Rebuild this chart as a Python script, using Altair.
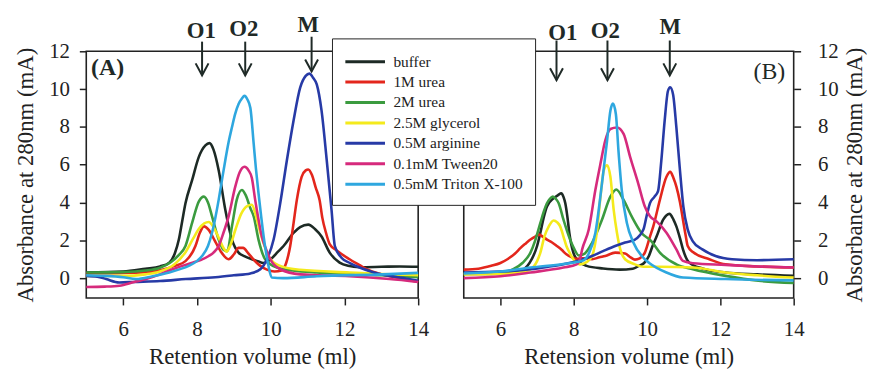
import altair as alt
import pandas as pd

SERIES = ["buffer", "1M urea", "2M urea", "2.5M glycerol", "0.5M arginine",
          "0.1mM Tween20", "0.5mM Triton X-100"]
COLORS = ["#1d2a25", "#e3261c", "#3b9b3f", "#f4ea1c", "#273aa6", "#d62a7c", "#2ea7df"]

Y_TICKS = [0, 2, 4, 6, 8, 10, 12]
X_TICKS = [6, 8, 10, 12, 14]

# ---------------- Panel A ----------------
a_buffer_x = [5.0, 6.0, 6.6, 7.0, 7.25, 7.4, 7.51, 7.6, 7.69, 7.87, 8.05, 8.23, 8.34, 8.45, 8.59, 8.77,
              8.95, 9.13, 9.3, 9.49, 9.65, 9.8, 10.0, 10.2, 10.35, 10.62, 10.8, 11.02, 11.2, 11.38, 11.6,
              11.87, 12.1, 12.41, 13.0, 13.5, 14.0]
a_buffer_y = [0.3, 0.35, 0.5, 0.62, 0.82, 1.3, 2.04, 3.0, 3.96, 5.18, 6.4, 7.02, 7.14, 6.8, 5.71, 3.62,
              2.04, 1.35, 1.15, 1.0, 0.9, 0.8, 1.0, 1.4, 1.7, 2.4, 2.7, 2.83, 2.6, 2.2, 1.35,
              0.82, 0.65, 0.58, 0.6, 0.62, 0.6]

a_urea1_x = [5.0, 6.0, 6.6, 7.0, 7.4, 7.69, 7.96, 8.08, 8.19, 8.32, 8.48, 8.65, 8.86, 9.0, 9.13, 9.25,
             9.4, 9.55, 9.72, 9.9, 10.1, 10.3, 10.42, 10.53, 10.62, 10.71, 10.84, 10.95, 11.02, 11.12,
             11.22, 11.33, 11.4, 11.5, 11.6, 11.8, 12.14, 12.4, 12.6, 13.0, 13.5, 14.0]
a_urea1_y = [0.25, 0.28, 0.32, 0.42, 0.65, 0.9, 1.7, 2.4, 2.74, 2.55, 2.0, 1.4, 1.0, 1.25, 1.6, 1.6,
             1.3, 0.95, 0.65, 0.45, 0.35, 0.4, 0.8, 1.7, 2.9, 4.14, 5.36, 5.7, 5.75, 5.45,
             4.8, 4.1, 3.2, 2.4, 1.8, 1.45, 1.0, 0.7, 0.47, 0.2, 0.0, -0.2]

a_urea2_x = [5.0, 6.0, 6.6, 7.0, 7.3, 7.5, 7.69, 7.87, 8.05, 8.19, 8.3, 8.41, 8.59, 8.72, 8.82, 8.95,
             9.08, 9.22, 9.32, 9.45, 9.54, 9.67, 9.85, 10.17, 10.6, 11.25, 12.0, 13.0, 14.0]
a_urea2_y = [0.3, 0.32, 0.4, 0.55, 0.85, 1.2, 1.7, 2.92, 4.05, 4.31, 4.0, 3.27, 2.04, 1.5, 1.43, 2.74,
             4.14, 4.66, 4.4, 3.7, 3.27, 2.04, 1.0, 0.56, 0.4, 0.3, 0.25, 0.15, 0.05]

a_glyc_x = [5.0, 6.0, 6.6, 7.0, 7.4, 7.7, 7.9, 8.05, 8.2, 8.32, 8.45, 8.6, 8.72, 8.8, 8.9, 9.05, 9.2,
            9.35, 9.49, 9.6, 9.72, 9.85, 9.94, 10.1, 10.26, 10.8, 12.14, 13.0, 14.0]
a_glyc_y = [0.12, 0.12, 0.2, 0.35, 0.75, 1.4, 2.1, 2.6, 2.9, 2.97, 2.7, 2.1, 1.6, 1.4, 1.7, 2.6, 3.4,
            3.8, 3.88, 3.3, 2.4, 1.6, 1.17, 0.8, 0.65, 0.44, 0.3, 0.22, 0.16]

a_arg_x = [5.0, 5.3, 5.54, 5.89, 6.3, 7.0, 7.7, 8.5, 9.0, 9.45, 9.72, 9.9, 10.08, 10.26, 10.44, 10.62,
           10.8, 10.95, 11.05, 11.15, 11.25, 11.38, 11.52, 11.65, 11.74, 11.92, 12.15, 12.41, 12.8,
           13.22, 13.6, 14.0]
a_arg_y = [0.12, 0.08, -0.05, -0.23, -0.2, -0.15, -0.05, 0.05, 0.15, 0.25, 0.47, 1.0, 2.04, 3.97, 6.24,
           8.33, 10.08, 10.7, 10.82, 10.6, 10.25, 8.86, 6.24, 3.62, 1.7, 1.08, 0.8, 0.56, 0.3,
           0.12, 0.0, -0.14]

a_tween_x = [5.0, 5.5, 5.9, 6.3, 6.62, 7.0, 7.34, 7.6, 7.88, 8.1, 8.32, 8.45, 8.59, 8.72, 8.86, 9.04,
             9.16, 9.29, 9.4, 9.49, 9.58, 9.67, 9.76, 9.88, 9.99, 10.26, 10.8, 12.14, 13.22, 14.0]
a_tween_y = [-0.47, -0.45, -0.4, -0.2, -0.05, 0.2, 0.47, 0.65, 0.82, 0.95, 1.17, 1.35, 1.7, 2.4, 3.27,
             4.84, 5.6, 5.89, 5.7, 5.3, 4.14, 3.1, 2.2, 1.5, 1.0, 0.47, 0.2, 0.1, -0.05, -0.2]

a_triton_x = [5.0, 5.5, 6.0, 6.35, 6.8, 7.25, 7.5, 7.78, 8.0, 8.14, 8.3, 8.41, 8.5, 8.59, 8.68, 8.77,
              8.86, 8.95, 9.04, 9.13, 9.22, 9.29, 9.37, 9.45, 9.54, 9.6, 9.67, 9.74, 9.81, 9.88, 9.94,
              10.03, 10.34, 11.25, 13.04, 14.0]
a_triton_y = [0.15, 0.12, 0.05, -0.05, 0.1, 0.3, 0.45, 0.65, 0.9, 1.17, 1.7, 2.4, 3.2, 4.14, 5.2, 6.24,
              7.2, 7.98, 8.7, 9.21, 9.5, 9.64, 9.45, 9.0, 7.1, 5.8, 4.5, 3.3, 2.2, 1.3, 0.65,
              0.03, 0.0, 0.1, 0.2, 0.28]

# ---------------- Panel B ----------------
b_buffer_x = [5.0, 5.5, 6.0, 6.5, 6.8, 7.0, 7.09, 7.18, 7.27, 7.45, 7.58, 7.66, 7.72, 7.77, 7.83, 7.88,
              7.99, 8.08, 8.17, 8.35, 8.8, 9.25, 9.61, 9.78, 9.92, 10.05, 10.15, 10.26, 10.44, 10.61,
              10.72, 10.8, 10.9, 10.98, 11.15, 11.51, 12.14, 13.0, 14.0]
b_buffer_y = [0.22, 0.22, 0.25, 0.35, 0.82, 1.7, 2.4, 3.2, 3.79, 4.22, 4.4, 4.49, 4.3, 3.96, 3.2, 2.39,
              1.35, 1.0, 0.82, 0.65, 0.51, 0.45, 0.5, 0.65, 0.8, 1.17, 1.7, 2.2, 3.09, 3.4,
              3.1, 2.74, 2.1, 1.52, 0.82, 0.51, 0.3, 0.2, 0.12]

b_urea1_x = [5.0, 5.4, 5.75, 6.0, 6.19, 6.4, 6.55, 6.7, 6.82, 6.95, 7.05, 7.15, 7.27, 7.4, 7.54, 7.67,
             7.8, 7.95, 8.07, 8.25, 8.5, 8.7, 8.86, 9.13, 9.4, 9.55, 9.67, 9.8, 9.94, 10.08, 10.17,
             10.35, 10.53, 10.63, 10.72, 10.8, 10.9, 10.98, 11.05, 11.11, 11.25, 11.7, 12.14, 13.0, 14.0]
b_urea1_y = [0.45, 0.5, 0.65, 0.8, 1.0, 1.3, 1.6, 1.85, 2.04, 2.2, 2.3, 2.2, 2.04, 1.9, 1.7, 1.5,
             1.26, 1.1, 1.03, 1.05, 1.0, 1.1, 1.17, 1.35, 1.3, 1.1, 0.98, 1.05, 1.35, 2.2, 2.74,
             4.14, 5.36, 5.62, 5.3, 4.84, 4.0, 3.09, 2.3, 1.7, 1.38, 1.0, 0.73, 0.62, 0.56]

b_urea2_x = [5.0, 5.5, 6.0, 6.35, 6.6, 6.82, 6.95, 7.09, 7.18, 7.27, 7.35, 7.43, 7.51, 7.59, 7.72, 7.9,
             8.0, 8.14, 8.3, 8.5, 8.77, 9.0, 9.16, 9.36, 9.58, 9.85, 10.12, 10.35, 10.8, 11.25, 12.14,
             13.04, 14.0]
b_urea2_y = [0.25, 0.25, 0.3, 0.47, 0.8, 1.35, 2.0, 2.92, 3.5, 3.96, 4.2, 4.31, 4.2, 3.96, 3.09, 2.04,
             1.6, 1.2, 1.3, 1.87, 3.09, 4.31, 4.69, 4.14, 3.27, 2.39, 1.95, 1.35, 0.73, 0.47, 0.12,
             -0.14, -0.26]

b_glyc_x = [5.0, 6.0, 6.5, 6.82, 7.0, 7.09, 7.2, 7.32, 7.45, 7.55, 7.63, 7.72, 7.8, 7.9, 7.99, 8.17,
            8.35, 8.5, 8.64, 8.73, 8.82, 8.91, 9.0, 9.09, 9.18, 9.27, 9.4, 9.67, 9.9, 10.35, 11.25,
            12.14, 13.0, 14.0]
b_glyc_y = [0.2, 0.22, 0.3, 0.47, 0.9, 1.35, 2.2, 2.74, 3.05, 2.95, 2.74, 2.2, 1.7, 1.3, 1.0, 0.73,
            0.85, 1.17, 2.57, 4.31, 5.7, 5.97, 5.36, 3.61, 2.39, 1.52, 1.0, 0.73, 0.6, 0.6, 0.56,
            0.3, 0.15, 0.03]

b_arg_x = [5.0, 6.0, 6.82, 7.3, 7.72, 8.0, 8.26, 8.5, 8.8, 9.13, 9.4, 9.67, 9.9, 9.99, 10.08, 10.2,
           10.3, 10.39, 10.48, 10.57, 10.63, 10.71, 10.8, 10.89, 10.99, 11.11, 11.25, 11.51, 11.87,
           12.32, 13.0, 14.0]
b_arg_y = [0.3, 0.35, 0.47, 0.6, 0.73, 0.85, 1.0, 1.17, 1.43, 1.7, 1.88, 2.04, 2.57, 3.3, 3.97, 4.3,
           4.6, 6.23, 8.32, 9.9, 10.1, 9.72, 7.97, 5.88, 3.79, 2.57, 1.95, 1.52, 1.17,
           1.0, 0.95, 1.0]

b_tween_x = [5.0, 6.0, 6.82, 7.72, 8.08, 8.17, 8.23, 8.41, 8.59, 8.73, 8.86, 9.0, 9.18, 9.36, 9.54,
             9.76, 9.94, 10.08, 10.26, 10.53, 10.8, 10.98, 11.25, 12.14, 13.0, 14.0]
b_tween_y = [0.0, 0.1, 0.3, 0.56, 0.73, 1.0, 1.52, 2.57, 4.66, 6.06, 7.28, 7.89, 7.97, 7.63, 6.4,
             5.0, 3.79, 3.27, 3.0, 2.4, 1.52, 0.91, 0.79, 0.7, 0.62, 0.56]

b_triton_x = [5.0, 6.0, 6.82, 7.72, 8.08, 8.28, 8.41, 8.59, 8.77, 8.91, 9.0, 9.07, 9.15, 9.22, 9.31,
              9.45, 9.63, 9.94, 10.05, 10.53, 10.98, 12.14, 14.0]
b_triton_y = [0.25, 0.35, 0.56, 0.75, 0.85, 0.95, 1.3, 2.39, 5.0, 7.28, 8.85, 9.23, 8.67, 6.75, 4.66,
              2.92, 1.87, 1.0, 0.82, 0.3, 0.03, -0.05, -0.12]

# ---------------- Annotations ----------------
PEAK_LABELS = ["O1", "O2", "M"]
a_arrow_x = [8.14, 9.31, 11.11]
a_arrow_top = [12.51, 12.51, 12.77]
a_arrow_tip = [10.73, 10.73, 10.94]
a_label_x = [8.12, 9.27, 11.02]
a_label_y = [13.06, 13.19, 13.37]

b_arrow_x = [7.53, 8.92, 10.62]
b_arrow_top = [12.57, 12.57, 12.57]
b_arrow_tip = [10.47, 10.47, 10.73]
b_label_x = [7.7, 8.86, 10.63]
b_label_y = [12.96, 13.09, 13.3]

FONT = "Liberation Serif"
INK = "#1f2a27"


def long_frame(pairs):
    rows = []
    for name, (xs, ys) in zip(SERIES, pairs):
        for i, (xv, yv) in enumerate(zip(xs, ys)):
            rows.append({"series": name, "x": xv, "y": yv, "i": i})
    return pd.DataFrame(rows)


def arrow_frame(ax, top, tip, lx, ly):
    return pd.DataFrame({"x": ax, "top": top, "tip": tip, "lx": lx, "ly": ly, "label": PEAK_LABELS})


xscale = alt.Scale(domain=[5, 14], nice=False, zero=False)
yscale = alt.Scale(domain=[-1.05, 12], nice=False, zero=False)


def panel(df, arrows, xtitle, yorient, tag, tag_x, tag_y, tag_align, tag_weight, show_legend):
    if yorient == "left":
        yaxis = alt.Axis(orient="left", values=Y_TICKS, title="Absorbance at 280nm (mA)",
                         labelPadding=10, titlePadding=11, labelFlush=False)
    else:
        yaxis = alt.Axis(orient="right", values=Y_TICKS, title="Absorbance at 280nm (mA)",
                         labelPadding=17, titlePadding=5, titleAngle=270, titleBaseline="top",
                         labelAlign="left", labelFlush=False)
    xaxis = alt.Axis(values=X_TICKS, title=xtitle, labelPadding=14, titlePadding=6,
                     labelFlush=False)

    def X(f):
        return alt.X(f, type="quantitative", scale=xscale, axis=xaxis)

    def Y(f):
        return alt.Y(f, type="quantitative", scale=yscale, axis=yaxis)

    if show_legend:
        legend = alt.Legend(orient="none", legendX=-133, legendY=-13, title=None,
                            strokeColor="#222", fillColor="white", padding=12,
                            labelFont=FONT, labelFontSize=15.5, labelColor="#222",
                            symbolType="M-1,0L3,0", symbolSize=400, symbolStrokeWidth=3,
                            labelOffset=27, rowPadding=0.6, zindex=1)
    else:
        legend = None

    lines = alt.Chart(df).mark_line(strokeWidth=2.6, interpolate="monotone").encode(
        x=X("x"), y=Y("y"),
        color=alt.Color("series:N", scale=alt.Scale(domain=SERIES, range=COLORS),
                        sort=SERIES, legend=legend),
        order=alt.Order("i:Q"),
    )
    shafts = alt.Chart(arrows).mark_rule(strokeWidth=2, color=INK).encode(
        x=X("x"), y=Y("top"), y2=alt.Y2("tip"))
    heads = alt.Chart(arrows).mark_point(
        shape="M-1,-1.85L0,0L1,-1.85", size=169, filled=False, strokeWidth=2,
        color=INK, opacity=1).encode(x=X("x"), y=Y("tip"))
    labels = alt.Chart(arrows).mark_text(
        font=FONT, fontSize=23, fontWeight="bold", color=INK, baseline="middle",
        align="center").encode(x=X("lx"), y=Y("ly"), text="label:N")
    tagdf = pd.DataFrame({"x": [tag_x], "y": [tag_y], "t": [tag]})
    tagmark = alt.Chart(tagdf).mark_text(
        font=FONT, fontSize=24, fontWeight=tag_weight, color=INK, baseline="middle",
        align=tag_align).encode(x=X("x"), y=Y("y"), text="t:N")
    return alt.layer(lines, shafts, heads, labels, tagmark)


dfA = long_frame([(a_buffer_x, a_buffer_y), (a_urea1_x, a_urea1_y), (a_urea2_x, a_urea2_y),
                  (a_glyc_x, a_glyc_y), (a_arg_x, a_arg_y), (a_tween_x, a_tween_y),
                  (a_triton_x, a_triton_y)])
dfB = long_frame([(b_buffer_x, b_buffer_y), (b_urea1_x, b_urea1_y), (b_urea2_x, b_urea2_y),
                  (b_glyc_x, b_glyc_y), (b_arg_x, b_arg_y), (b_tween_x, b_tween_y),
                  (b_triton_x, b_triton_y)])

pA = panel(dfA, arrow_frame(a_arrow_x, a_arrow_top, a_arrow_tip, a_label_x, a_label_y),
           "Retention volume (ml)", "left", "(A)", 5.13, 11.13, "left", "bold", False
           ).properties(width=335, height=249)
pB = panel(dfB, arrow_frame(b_arrow_x, b_arrow_top, b_arrow_tip, b_label_x, b_label_y),
           "Retension volume (ml)", "right", "(B)", 13.77, 10.88, "right", "normal", True
           ).properties(width=333, height=249)

chart = alt.hconcat(pA, pB, spacing=46, bounds="flush").resolve_scale(
    color="independent").resolve_legend(color="independent").properties(
    padding={"left": 6, "top": 4, "right": 0, "bottom": 0}
).configure_view(stroke="#222", strokeWidth=1.6).configure_axis(
    labelFont=FONT, titleFont=FONT, labelFontSize=21, titleFontSize=23,
    titleFontWeight="normal", labelColor="#222", titleColor="#222",
    domain=False, grid=False, ticks=True, tickSize=7, tickWidth=1.5, tickColor="#222"
)

chart.save("out.html", embed_options={"renderer": "svg", "actions": False})
